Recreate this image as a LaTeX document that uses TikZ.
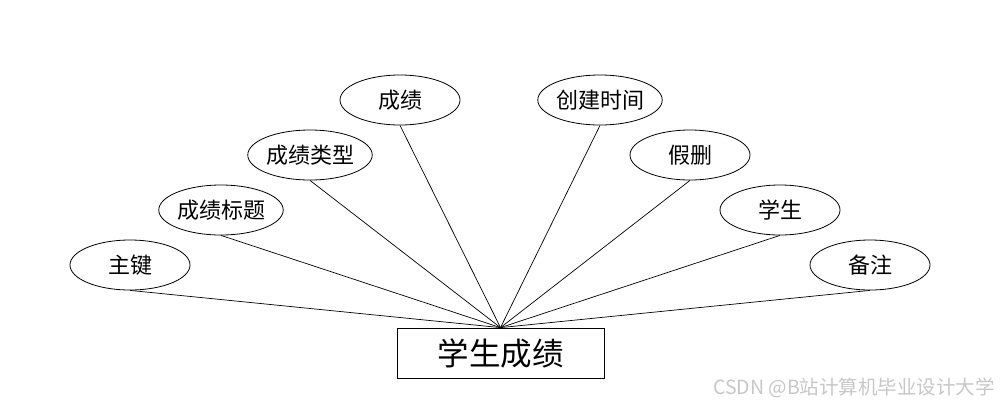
\documentclass[tikz,border=0pt]{standalone}
\usepackage{fontspec}
\setmainfont{Noto Sans CJK SC}
\newfontfamily\cjk{Noto Sans CJK SC}
\usetikzlibrary{shapes.geometric}
\tikzset{
  attr/.style={draw, ellipse, line width=0.8pt, minimum width=120pt, minimum height=50pt, inner sep=0pt, font=\cjk\fontsize{22}{26}\selectfont},
  entity/.style={draw, rectangle, line width=0.8pt, minimum width=207pt, minimum height=50pt, inner sep=0pt, font=\cjk\fontsize{31.5}{36}\selectfont},
  link/.style={line width=0.7pt},
  mark text/.style={text=black!22, font=\cjk\fontsize{19.5}{22}\selectfont, anchor=west, inner sep=0pt}
}
\begin{document}
\begin{tikzpicture}[x=1pt, y=-1pt]
\useasboundingbox (0,0) rectangle (1000,408);
\clip (0,0) rectangle (1000,408);
\node[entity] (e) at (500.5,353) {学生成绩};
\node[attr] (a1) at (130,265) {主键};
\node[attr] (a2) at (221,210) {成绩标题};
\node[attr] (a3) at (310,155) {成绩类型};
\node[attr] (a4) at (400,100) {成绩};
\node[attr] (a5) at (600,100) {创建时间};
\node[attr] (a6) at (690,155) {假删};
\node[attr] (a7) at (780,210) {学生};
\node[attr] (a8) at (870,265) {备注};
\foreach \n in {a1,a2,a3,a4,a5,a6,a7,a8}
  \draw[link] (\n.south) -- (e.north);
\node[mark text] (wm) at (713,388) {CSDN @B站计算机毕业设计大学};
\end{tikzpicture}
\end{document}
